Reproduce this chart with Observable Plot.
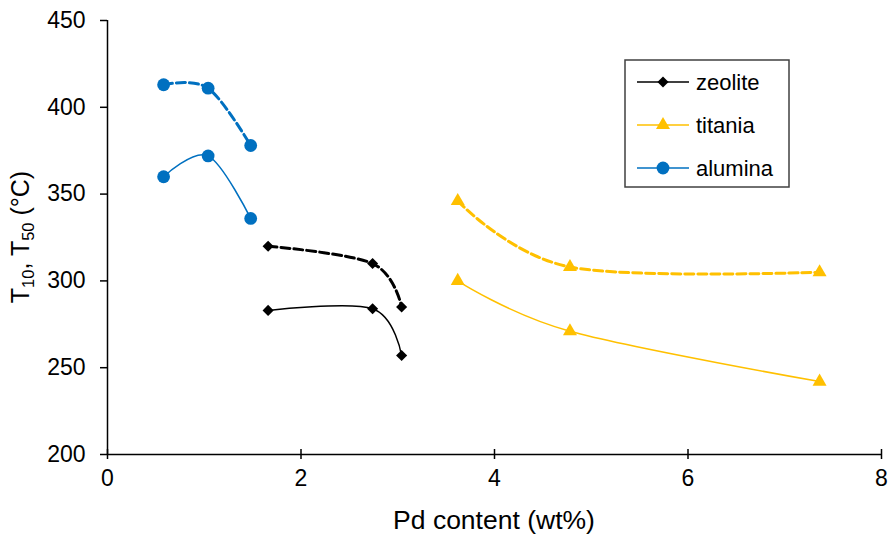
<!DOCTYPE html>
<html><head><meta charset="utf-8">
<script src="https://cdn.jsdelivr.net/npm/d3@7"></script>
<script src="https://cdn.jsdelivr.net/npm/@observablehq/plot@0.6"></script>
<style>
body{margin:0;background:#fff;}
#chart{width:890px;height:540px;}
svg text{font-family:"Liberation Sans", Arial, sans-serif;}
</style></head><body><div id="chart"></div>
<script>
const categories = ["zeolite", "titania", "alumina"];
const colors = ["#000000", "#FFC000", "#0070C0"];
const symbols = ["diamond2", "triangle", "circle"];
const markerR = [5, 5.2, 6.4];
const zeoliteX = [1.66, 2.74, 3.04];
const zeoliteT10 = [283, 284, 257];
const zeoliteT50 = [320, 310, 285];
const titaniaX = [3.62, 4.78, 7.36];
const titaniaT10 = [300, 271, 242];
const titaniaT50 = [346, 308, 305];
const aluminaX = [0.58, 1.04, 1.48];
const aluminaT10 = [360, 372, 336];
const aluminaT50 = [413, 411, 378];
const xTicks = [0, 2, 4, 6, 8];
const yTicks = [200, 250, 300, 350, 400, 450];
const xLabel = "Pd content (wt%)";
const legendLabels = categories;

const series = {
  zeolite: [zeoliteX, zeoliteT10, zeoliteT50],
  titania: [titaniaX, titaniaT10, titaniaT50],
  alumina: [aluminaX, aluminaT10, aluminaT50]
};
const rows = [];
for (const s of categories) {
  const [xs, t10, t50] = series[s];
  xs.forEach((x, i) => {
    rows.push({support: s, x, t: t10[i], metric: "T10"});
    rows.push({support: s, x, t: t50[i], metric: "T50"});
  });
}
const t10 = rows.filter(d => d.metric === "T10");
const t50 = rows.filter(d => d.metric === "T50");

const dotMarks = categories.map((s, i) =>
  Plot.dot(rows.filter(d => d.support === s), {x: "x", y: "t", fill: "support", symbol: "support", r: markerR[i]})
);

const svg = Plot.plot({
  width: 890, height: 540,
  marginLeft: 107, marginRight: 9, marginTop: 20, marginBottom: 86,
  style: {fontFamily: '"Liberation Sans", Arial, sans-serif', background: "#fff", color: "#000"},
  x: {domain: [0, 8]},
  y: {domain: [200, 450]},
  color: {domain: categories, range: colors},
  symbol: {domain: categories, range: symbols},
  marks: [
    Plot.line(t10, {x: "x", y: "t", z: "support", stroke: "support", strokeWidth: 1.5, curve: "cardinal"}),
    Plot.line(t50, {x: "x", y: "t", z: "support", stroke: "support", strokeWidth: 3, strokeDasharray: "9,4", curve: "cardinal"}),
    ...dotMarks,
    Plot.ruleX([0], {stroke: "#000", strokeWidth: 1.5}),
    Plot.ruleY([200], {stroke: "#000", strokeWidth: 1.5}),
    Plot.axisY(yTicks, {tickSize: 7, tickPadding: 15, fontSize: 23, label: null, strokeWidth: 1.5}),
    Plot.axisX(xTicks, {tickSize: 10, dy: -5, tickPadding: 10, fontSize: 23, label: null, strokeWidth: 1.5})
  ]
});

const root = d3.select(svg);
// x axis label
root.append("text")
  .attr("x", 494).attr("y", 529)
  .attr("text-anchor", "middle")
  .attr("font-size", 26.5).attr("fill", "#000")
  .text(xLabel);
// y axis label with subscripts
const yl = root.append("text")
  .attr("transform", "translate(29,237) rotate(-90)")
  .attr("text-anchor", "middle")
  .attr("font-size", 25).attr("fill", "#000");
yl.append("tspan").text("T");
yl.append("tspan").attr("font-size", 16.5).attr("dy", 5).text("10");
yl.append("tspan").attr("dy", -5).text(", T");
yl.append("tspan").attr("font-size", 16.5).attr("dy", 5).text("50");
yl.append("tspan").attr("dy", -5).text(" (°C)");

// legend
const lg = root.append("g");
lg.append("rect").attr("x", 625).attr("y", 60).attr("width", 164).attr("height", 127)
  .attr("fill", "#fff").attr("stroke", "#404040").attr("stroke-width", 1.5);
const symMap = {diamond2: d3.symbolDiamond2, triangle: d3.symbolTriangle, circle: d3.symbolCircle};
legendLabels.forEach((s, i) => {
  const y = 82 + i * 43;
  lg.append("line").attr("x1", 637).attr("x2", 689).attr("y1", y).attr("y2", y)
    .attr("stroke", colors[i]).attr("stroke-width", 1.5);
  lg.append("path").attr("transform", `translate(663,${y})`)
    .attr("d", d3.symbol(symMap[symbols[i]], Math.PI * markerR[i] * markerR[i])())
    .attr("fill", colors[i]);
  lg.append("text").attr("x", 696).attr("y", y).attr("dy", "0.35em")
    .attr("text-anchor", "start")
    .attr("font-size", 22).attr("fill", "#000").text(s);
});

document.getElementById("chart").appendChild(svg);
</script></body></html>
